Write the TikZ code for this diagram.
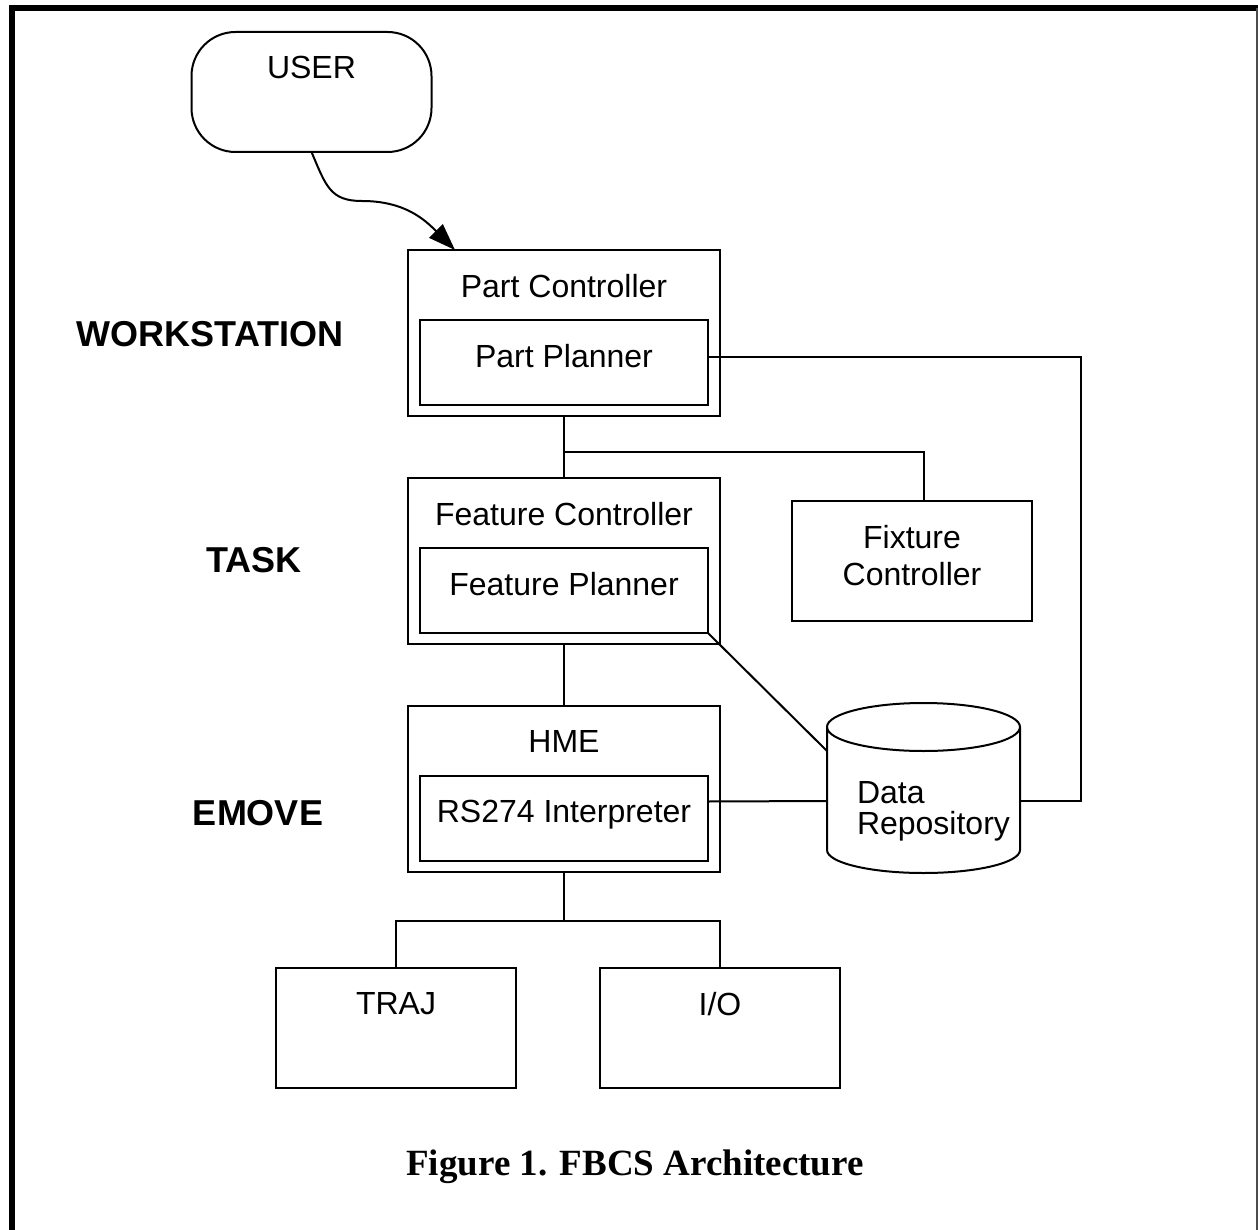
\documentclass[tikz,border=0pt]{standalone}
\usepackage{fontspec}
\setmainfont{Liberation Serif}
\setsansfont{Liberation Sans}
\usetikzlibrary{positioning,arrows.meta}
\begin{document}
\begin{tikzpicture}[x=0.5pt,y=-0.5pt,line width=1pt,node distance=31pt,
    font=\sffamily\fontsize{16}{18.5}\selectfont,
    block/.style={draw,fill=white,outer sep=0pt,inner sep=0pt,minimum width=120pt,minimum height=60pt},
    unit/.style={block,minimum width=156pt,minimum height=83pt},
    planner/.style={block,minimum width=144pt,minimum height=42.5pt},
    title/.style={anchor=north,inner sep=0pt,yshift=-11.5pt,align=center},
    level/.style={font=\sffamily\bfseries\fontsize{18}{21}\selectfont}]
  \useasboundingbox (0,0) rectangle (1258,1230);
  \draw[line width=3pt] (1258,8.5) -- (12,8.5) -- (12,1230);
  \draw[gray!60!black] (1256.5,8.5) -- (1256.5,1230);

  % workstation level
  \node (user) at (311.5,92) [block,rounded corners=22pt,label={[title]north:USER}] {};
  \node (partcontroller) at (564,333) [unit,label={[title]north:Part Controller}] {};
  \node (partplanner) [planner,above=5.5pt of partcontroller.south,label={[title]north:Part Planner}] {};
  \node (workstation) at (210,334) [level] {WORKSTATION};

  % task level
  \node (featurecontroller) [unit,below=of partcontroller,label={[title]north:Feature Controller}] {};
  \node (featureplanner) [planner,above=5.5pt of featurecontroller.south,label={[title]north:Feature Planner}] {};
  \node (fixturecontroller) at (912,561) [block,label={[title]north:Fixture\\Controller}] {};
  \node (task) at (254,560) [level] {TASK};

  % emove level
  \node (hme) [unit,below=of featurecontroller,label={[title]north:HME}] {};
  \node (interpreter) [planner,above=5.5pt of hme.south,label={[title]north:RS274 Interpreter}] {};
  \node (emove) at (258,813) [level] {EMOVE};
  \node (traj) at (396,1028) [block,label={[title]north:TRAJ}] {};
  \node (io) at (720,1028) [block,label={[title]north:I/O}] {};

  % data repository (cylinder drawn round the node)
  \node (repository) at (923.5,788) [minimum width=96.5pt,minimum height=85pt,outer sep=0pt,inner sep=0pt,
    label={[anchor=north west,align=left,inner sep=0pt,xshift=14.5pt,yshift=4pt,
      font=\sffamily\fontsize{16}{15.5}\selectfont]west:Data\\Repository}] {};
  \draw ([yshift=-12pt]repository.north west) -- ([yshift=11.5pt]repository.south west)
    arc[start angle=180,end angle=360,x radius=48.25pt,y radius=11.5pt]
    -- ([yshift=-12pt]repository.north east)
    arc[start angle=0,end angle=180,x radius=48.25pt,y radius=12pt];
  \draw ([yshift=-12pt]repository.north west) arc[start angle=180,end angle=360,x radius=48.25pt,y radius=12pt];

  \node (caption) at (635,1175) [anchor=base,font=\rmfamily\bfseries\fontsize{18.5}{22}\selectfont]
    {Figure 1. FBCS Architecture};

  % connections
  \coordinate (tap) at (564,452);
  \draw (partcontroller) -- (featurecontroller);
  \draw (tap) -| ([xshift=6pt]fixturecontroller.north);
  \draw (featurecontroller) -- (hme);
  \draw (hme.south) -- ++(0,49) coordinate (split) (traj.north) |- (split) -| (io.north);
  \draw ([yshift=3pt]partplanner.east) -- ++(373,0) |- ([yshift=-6.5pt]repository.east);
  \draw (featureplanner.south east) -- ([yshift=18.5pt]repository.west);
  \draw ([yshift=8.5pt]interpreter.east) -- ([yshift=-6.5pt]repository.west);
  \draw[-{Triangle[length=13.5pt,width=9.5pt]}] (user.south) .. controls (326,186) and (330,201) .. (362,201)
    .. controls (405,201) and (425,220) .. ([xshift=23.5pt]partcontroller.north west);
\end{tikzpicture}
\end{document}
